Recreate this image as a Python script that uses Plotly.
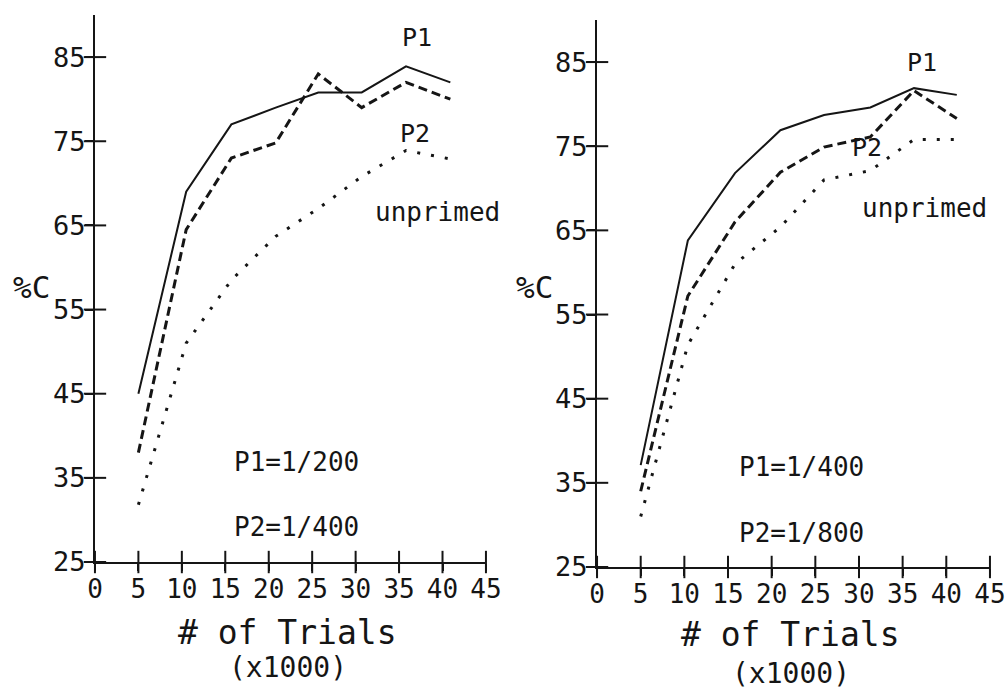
import plotly.graph_objects as go

# Trial counts (x1000) at which %C was measured
trials_left = [5, 10.5, 15.7, 20.8, 25.7, 30.7, 35.8, 40.9]
trials_right = [5, 10.4, 15.8, 21.0, 26.0, 31.3, 36.3, 41.2]

# Left panel: P1=1/200, P2=1/400
p1_left = [45.0, 69.0, 77.0, 79.0, 80.8, 80.8, 83.9, 82.0]
p2_left = [38.0, 64.5, 73.0, 74.8, 83.0, 79.0, 82.0, 80.0]
unprimed_left = [31.8, 51.0, 58.5, 63.7, 67.0, 70.8, 73.9, 72.9]

# Right panel: P1=1/400, P2=1/800
p1_right = [37.1, 63.8, 71.8, 76.9, 78.7, 79.6, 81.9, 81.1]
p2_right = [34.0, 57.2, 66.0, 71.9, 74.9, 76.1, 81.6, 78.3]
unprimed_right = [31.0, 51.4, 61.0, 65.4, 71.0, 72.1, 75.8, 75.8]

x_ticks = [0, 5, 10, 15, 20, 25, 30, 35, 40, 45]
y_ticks = [25, 35, 45, 55, 65, 75, 85]

X_MIN, Y_MIN = 0, 25
x_range = [X_MIN, 45]
y_range = [Y_MIN, 90]

INK = "#151515"
FONT = "DejaVu Sans Mono"

fig = go.Figure()


def add_panel(xs, p1, p2, unp, xa, ya):
    fig.add_trace(go.Scatter(x=xs, y=p1, mode="lines", xaxis=xa, yaxis=ya,
                             line=dict(color=INK, width=2), showlegend=False))
    fig.add_trace(go.Scatter(x=xs, y=p2, mode="lines", xaxis=xa, yaxis=ya,
                             line=dict(color=INK, width=3, dash="9px,5px"),
                             showlegend=False))
    fig.add_trace(go.Scatter(x=xs, y=unp, mode="lines", xaxis=xa, yaxis=ya,
                             line=dict(color=INK, width=3, dash="3px,11px"),
                             showlegend=False))
    # "+"-style tick marks crossing each axis line
    fig.add_trace(go.Scatter(x=[X_MIN] * len(y_ticks), y=y_ticks, mode="markers",
                             xaxis=xa, yaxis=ya, cliponaxis=False,
                             marker=dict(symbol="line-ew", size=16, color=INK,
                                         line=dict(width=2, color=INK)),
                             showlegend=False, hoverinfo="skip"))
    fig.add_trace(go.Scatter(x=x_ticks, y=[Y_MIN] * len(x_ticks), mode="markers",
                             xaxis=xa, yaxis=ya, cliponaxis=False,
                             marker=dict(symbol="line-ns", size=16, color=INK,
                                         line=dict(width=2, color=INK)),
                             showlegend=False, hoverinfo="skip"))


add_panel(trials_left, p1_left, p2_left, unprimed_left, "x", "y")
add_panel(trials_right, p1_right, p2_right, unprimed_right, "x2", "y2")

base_x = dict(range=x_range, tickvals=x_ticks, ticktext=[str(v) for v in x_ticks],
              showgrid=False, zeroline=False, showline=True, linecolor=INK,
              linewidth=2, ticks="outside", ticklen=7, tickwidth=2, tickcolor=INK,
              tickfont=dict(family=FONT, size=26, color=INK),
              ticklabelstandoff=-4, automargin=False, fixedrange=True)
base_y = dict(range=y_range, tickvals=y_ticks, ticktext=[str(v) for v in y_ticks],
              showgrid=False, zeroline=False, showline=True, linecolor=INK,
              linewidth=2, ticks="outside", ticklen=8, tickwidth=2, tickcolor=INK,
              tickfont=dict(family=FONT, size=27, color=INK),
              ticklabelstandoff=-6, automargin=False, fixedrange=True)

fig.update_layout(
    width=1008, height=689,
    margin=dict(l=0, r=0, t=0, b=0),
    paper_bgcolor="white", plot_bgcolor="white",
    xaxis=dict(base_x, domain=[0.0942, 0.4821], anchor="y"),
    yaxis=dict(base_y, domain=[0.1843, 0.9782], anchor="x"),
    xaxis2=dict(base_x, domain=[0.5923, 0.9821], anchor="y2"),
    yaxis2=dict(base_y, domain=[0.1771, 0.9710], anchor="x2"),
)

# Text labels inside each panel (data coordinates)
panel_text = [
    ("x", "y", 37.05, 87.35, "P1", 25),
    ("x", "y", 36.8, 75.95, "P2", 25),
    ("x", "y", 39.4, 66.6, "unprimed", 26),
    ("x", "y", 23.2, 36.9, "P1=1/200", 26),
    ("x", "y", 23.2, 29.2, "P2=1/400", 26),
    ("x2", "y2", 37.2, 84.9, "P1", 25),
    ("x2", "y2", 30.9, 74.8, "P2", 25),
    ("x2", "y2", 37.5, 67.6, "unprimed", 26),
    ("x2", "y2", 23.4, 36.9, "P1=1/400", 26),
    ("x2", "y2", 23.4, 29.0, "P2=1/800", 26),
]
for xr, yr, xv, yv, txt, sz in panel_text:
    fig.add_annotation(x=xv, y=yv, xref=xr, yref=yr, text=txt, showarrow=False,
                       xanchor="center", yanchor="middle",
                       font=dict(family=FONT, size=sz, color=INK))

# Axis titles (paper coordinates)
axis_titles = [
    (0.031, 0.583, "%C", 31),
    (0.2857, 0.0827, "# of Trials", 33),
    (0.2857, 0.0305, "(x1000)", 28),
    (0.5298, 0.583, "%C", 31),
    (0.7847, 0.0784, "# of Trials", 33),
    (0.7847, 0.0232, "(x1000)", 28),
]
for xv, yv, txt, sz in axis_titles:
    fig.add_annotation(x=xv, y=yv, xref="paper", yref="paper", text=txt,
                       showarrow=False, xanchor="center", yanchor="middle",
                       font=dict(family=FONT, size=sz, color=INK))

fig.write_html("out.html")
